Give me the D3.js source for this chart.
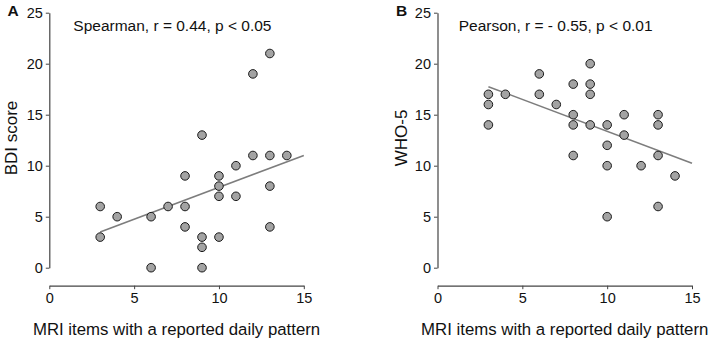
<!DOCTYPE html>
<html>
<head>
<meta charset="utf-8">
<script src="https://cdn.jsdelivr.net/npm/d3@7"></script>
<style>
  body { margin: 0; background: #fff; }
  text { font-family: "Liberation Sans", Arial, Helvetica, sans-serif; fill: #111; }
</style>
</head>
<body>
<div id="chart"></div>
<script>
// panel A: BDI score vs MRI items
var bdiX = [3, 3, 4, 6, 6, 7, 8, 8, 8, 9, 9, 9, 9, 10, 10, 10, 10, 11, 11, 12, 12, 13, 13, 13, 13, 14];
var bdiY = [6, 3, 5, 5, 0, 6, 9, 6, 4, 13, 3, 2, 0, 9, 8, 7, 3, 10, 7, 19, 11, 21, 11, 8, 4, 11];
var bdiFit = [[3, 3.5], [15, 11]];

// panel B: WHO-5 vs MRI items
var whoX = [3, 3, 3, 4, 6, 6, 7, 8, 8, 8, 8, 9, 9, 9, 9, 10, 10, 10, 10, 11, 11, 12, 13, 13, 13, 13, 14];
var whoY = [17, 16, 14, 17, 19, 17, 16, 18, 15, 14, 11, 20, 18, 17, 14, 14, 12, 10, 5, 15, 13, 10, 15, 14, 11, 6, 9];
var whoFit = [[3, 17.75], [15, 10.25]];

var xTicks = [0, 5, 10, 15];
var yTicks = [0, 5, 10, 15, 20, 25];
var xTitle = "MRI items with a reported daily pattern";

var W = 714, H = 345;

var svg = d3.select("#chart")
  .append("svg")
    .attr("width", W)
    .attr("height", H);

function drawPanel(opts) {
    var x = d3.scaleLinear().domain([0, 15]).range([opts.left, opts.left + 254.5]);
    var y = d3.scaleLinear().domain([0, 25]).range([267.7, 12.7]);

    // y axis
    var gy = svg.append("g")
        .attr("transform", "translate(" + opts.left + ",0)")
        .call(d3.axisLeft(y).tickValues(yTicks).tickSize(3.5).tickPadding(3).tickSizeOuter(0));
    // x axis, detached below the plot
    var gx = svg.append("g")
        .attr("transform", "translate(0,285.7)")
        .call(d3.axisBottom(x).tickValues(xTicks).tickSize(3.5).tickPadding(4).tickSizeOuter(0));

    [gx, gy].forEach(function(g) {
        g.select(".domain").attr("stroke", "#444").attr("stroke-width", 1.2);
        g.selectAll(".tick line").attr("stroke", "#444").attr("stroke-width", 1);
        g.selectAll(".tick text")
            .attr("font-family", "Liberation Sans, Arial, sans-serif")
            .attr("font-size", 14.5)
            .attr("fill", "#111");
    });

    // regression line
    svg.append("line")
        .attr("x1", x(opts.fit[0][0])).attr("y1", y(opts.fit[0][1]))
        .attr("x2", x(opts.fit[1][0])).attr("y2", y(opts.fit[1][1]))
        .attr("stroke", "#7d7d7d")
        .attr("stroke-width", 1.6);

    // points
    svg.append("g")
        .selectAll("circle")
        .data(opts.xs.map(function(d, i) { return {x: d, y: opts.ys[i]}; }))
        .enter()
        .append("circle")
        .attr("cx", function(d) { return x(d.x); })
        .attr("cy", function(d) { return y(d.y); })
        .attr("r", 4.3)
        .attr("fill", "#a3a3a3")
        .attr("stroke", "#1a1a1a")
        .attr("stroke-width", 1);

    // panel letter
    svg.append("text")
        .attr("x", opts.letterX)
        .attr("y", 16)
        .attr("font-size", 15.5)
        .attr("font-weight", "bold")
        .text(opts.letter);

    // stats annotation
    svg.append("text")
        .attr("x", opts.statX)
        .attr("y", 31)
        .attr("font-size", 15.5)
        .text(opts.stat);

    // y title
    svg.append("text")
        .attr("transform", "translate(" + opts.yTitleX + ",138)rotate(-90)")
        .attr("text-anchor", "middle")
        .attr("font-size", 17)
        .text(opts.yTitle);

    // x title
    svg.append("text")
        .attr("x", (x.range()[0] + x.range()[1]) / 2)
        .attr("y", 335)
        .attr("text-anchor", "middle")
        .attr("font-size", 16.8)
        .text(xTitle);
}

drawPanel({left: 49.3, xs: bdiX, ys: bdiY, fit: bdiFit, letter: "A", letterX: 7.5,
           stat: "Spearman, r = 0.44, p < 0.05", statX: 73.3, yTitle: "BDI score", yTitleX: 17});
drawPanel({left: 437.5, xs: whoX, ys: whoY, fit: whoFit, letter: "B", letterX: 396,
           stat: "Pearson, r = - 0.55, p < 0.01", statX: 458.7, yTitle: "WHO-5", yTitleX: 407});
</script>
</body>
</html>
